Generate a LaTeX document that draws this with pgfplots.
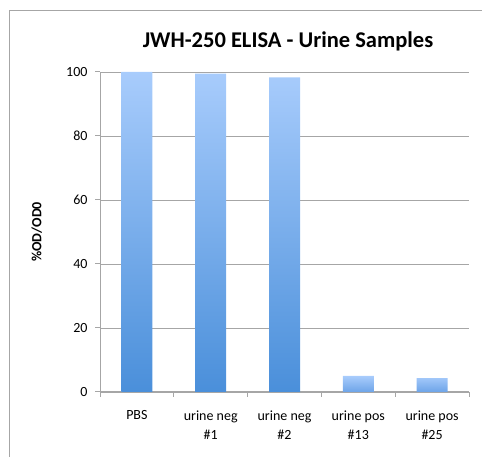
\documentclass[border=0pt]{standalone}
\usepackage{fontspec}
\setmainfont{Carlito}
\usepackage{pgfplots}
\pgfplotsset{compat=1.18}
\definecolor{barTop}{HTML}{A8CCFC}
\definecolor{barBot}{HTML}{4A8FDA}
\definecolor{barBotSmall}{HTML}{6DA4E8}
\definecolor{axgray}{HTML}{A6A6A6}
\begin{document}
\begin{tikzpicture}[x=1pt,y=1pt]
\useasboundingbox (0,0) rectangle (482,457);
\draw[color=axgray, line width=1pt] (9,0) -- (9,446) -- (482,446);
\begin{axis}[
  at={(100pt,65pt)}, anchor=south west,
  scale only axis, width=369pt, height=320pt,
  xmin=-0.5, xmax=4.5, ymin=0, ymax=100,
  ytick={0,20,...,100},
  xtick={-0.5,0.5,1.5,2.5,3.5,4.5},
  x tick label as interval,
  xticklabels={PBS,{urine neg\\\#1},{urine neg\\\#2},{urine pos\\\#13},{urine pos\\\#25}},
  xticklabel style={align=center, font=\fontsize{14}{19}\selectfont, yshift=-10pt},
  yticklabel style={font=\fontsize{14}{17}\selectfont, xshift=-4pt},
  /pgf/number format/assume math mode=true,
  tick align=outside,
  major tick length=5pt,
  axis x line*=bottom, axis y line*=left,
  axis line style={axgray, line width=1pt, -},
  tick style={axgray, line width=1pt},
  ymajorgrids, grid style={axgray, line width=0.8pt},
  title={JWH-250 ELISA - Urine Samples},
  title style={font=\bfseries\fontsize{22.5}{26}\selectfont, anchor=base, at={(axis description cs:0.5,1)}, yshift=18pt, xshift=3.5pt},
  ylabel={\%OD/OD0},
  ylabel style={font=\bfseries\fontsize{14}{17}\selectfont, at={(axis description cs:-0.171,0.5)}, anchor=center},
  clip=false,
]
\addplot[ybar, bar width=31pt, bar shift=0pt, draw=none, top color=barTop, bottom color=barBot]
  coordinates {(0,100) (1,99.5) (2,98.3)};
\addplot[ybar, bar width=31pt, bar shift=0pt, draw=none, top color=barTop, bottom color=barBotSmall]
  coordinates {(3,5) (4,4.3)};
\end{axis}
\end{tikzpicture}
\end{document}
